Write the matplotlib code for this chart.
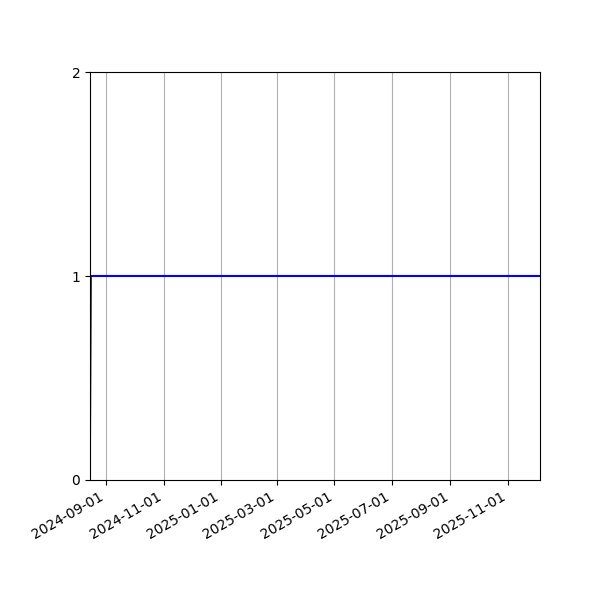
import numpy as np
import matplotlib
matplotlib.use("Agg")
import matplotlib.pyplot as plt
import matplotlib.dates as mdates

# ── data ─────────────────────────────────────────────────────────────────────
count_dates  = np.array(["2024-08-15", "2024-08-16", "2025-12-05"], dtype="datetime64[D]")
count_values = [0, 1, 1]

level_dates  = np.array(["2024-08-16", "2025-12-05"], dtype="datetime64[D]")
level_values = [1, 1]

y_ticks = [0, 1, 2]

fig, ax = plt.subplots(figsize=(6, 6), dpi=100)

ax.plot(count_dates, count_values, color="black", linewidth=1.2)
ax.plot(level_dates, level_values, color="blue", linewidth=1.5)

ax.set_xlim(count_dates[0], count_dates[-1])
ax.set_ylim(0, 2)
ax.set_yticks(y_ticks)

ax.xaxis.set_major_locator(mdates.MonthLocator(bymonth=[1, 3, 5, 7, 9, 11]))
ax.xaxis.set_major_formatter(mdates.DateFormatter("%Y-%m-%d"))
ax.grid(axis="x", color="#b0b0b0")

fig.autofmt_xdate()
fig.subplots_adjust(left=0.15, right=0.9, top=0.88, bottom=0.2)

plt.savefig("out.png", dpi=100)
plt.close(fig)
